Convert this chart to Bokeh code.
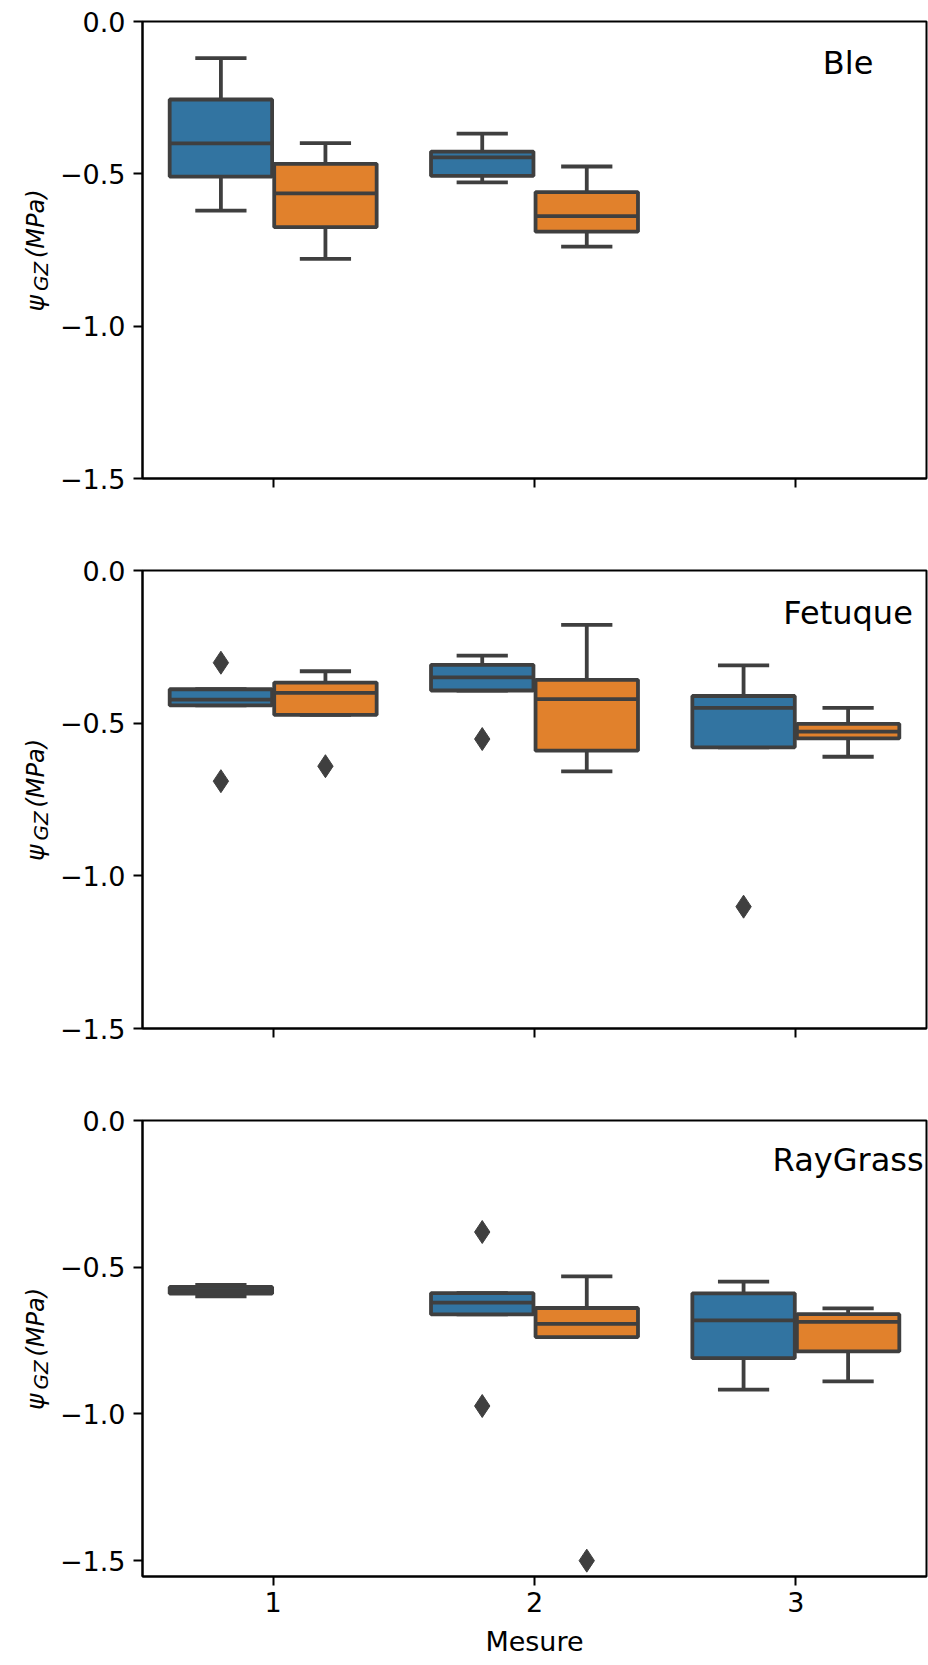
import math
from bokeh.plotting import figure
from bokeh.models import ColumnDataSource, Range1d, FixedTicker
from bokeh.layouts import column, row
from bokeh.embed import file_html
from bokeh.resources import INLINE
from bokeh.core.properties import value

NaN = float("nan")

# ---------------- data ----------------
measures = [1, 2, 3]
measure_labels = ["1", "2", "3"]
species = ["Ble", "Fetuque", "RayGrass"]
y_ticks = [0.0, -0.5, -1.0, -1.5]
y_tick_labels = ["0.0", "\u22120.5", "\u22121.0", "\u22121.5"]
hue_colors = ["#3274a1", "#e1812c"]
y_label_parts = ["\u03c8", "GZ", "(MPa)"]
x_label = "Mesure"

# Ble  (whisker low, Q1, median, Q3, whisker high) per Mesure
ble_blue_wlo = [-0.621, -0.528, NaN]
ble_blue_q1 = [-0.509, -0.507, NaN]
ble_blue_med = [-0.400, -0.446, NaN]
ble_blue_q3 = [-0.256, -0.427, NaN]
ble_blue_whi = [-0.120, -0.368, NaN]
ble_blue_fliers = [[], [], []]
ble_orange_wlo = [-0.779, -0.739, NaN]
ble_orange_q1 = [-0.675, -0.690, NaN]
ble_orange_med = [-0.564, -0.639, NaN]
ble_orange_q3 = [-0.467, -0.560, NaN]
ble_orange_whi = [-0.399, -0.476, NaN]
ble_orange_fliers = [[], [], []]

# Fetuque
fet_blue_wlo = [-0.442, -0.393, -0.579]
fet_blue_q1 = [-0.442, -0.393, -0.579]
fet_blue_med = [-0.423, -0.350, -0.450]
fet_blue_q3 = [-0.389, -0.309, -0.411]
fet_blue_whi = [-0.389, -0.279, -0.311]
fet_blue_fliers = [[-0.302, -0.690], [-0.552], [-1.101]]
fet_orange_wlo = [-0.473, -0.658, -0.610]
fet_orange_q1 = [-0.473, -0.590, -0.550]
fet_orange_med = [-0.401, -0.421, -0.528]
fet_orange_q3 = [-0.367, -0.358, -0.502]
fet_orange_whi = [-0.330, -0.178, -0.450]
fet_orange_fliers = [[-0.641], [], []]

# RayGrass
ray_blue_wlo = [-0.599, -0.661, -0.917]
ray_blue_q1 = [-0.590, -0.661, -0.810]
ray_blue_med = [-0.578, -0.621, -0.681]
ray_blue_q3 = [-0.567, -0.588, -0.589]
ray_blue_whi = [-0.560, -0.588, -0.549]
ray_blue_fliers = [[], [-0.380, -0.973], []]
ray_orange_wlo = [NaN, -0.738, -0.889]
ray_orange_q1 = [NaN, -0.738, -0.787]
ray_orange_med = [NaN, -0.693, -0.686]
ray_orange_q3 = [NaN, -0.639, -0.660]
ray_orange_whi = [NaN, -0.531, -0.640]
ray_orange_fliers = [[], [-1.500], []]

panels = [
    (species[0],
     [(ble_blue_wlo, ble_blue_q1, ble_blue_med, ble_blue_q3, ble_blue_whi, ble_blue_fliers),
      (ble_orange_wlo, ble_orange_q1, ble_orange_med, ble_orange_q3, ble_orange_whi, ble_orange_fliers)],
     -1.5),
    (species[1],
     [(fet_blue_wlo, fet_blue_q1, fet_blue_med, fet_blue_q3, fet_blue_whi, fet_blue_fliers),
      (fet_orange_wlo, fet_orange_q1, fet_orange_med, fet_orange_q3, fet_orange_whi, fet_orange_fliers)],
     -1.5),
    (species[2],
     [(ray_blue_wlo, ray_blue_q1, ray_blue_med, ray_blue_q3, ray_blue_whi, ray_blue_fliers),
      (ray_orange_wlo, ray_orange_q1, ray_orange_med, ray_orange_q3, ray_orange_whi, ray_orange_fliers)],
     -1.554),
]

# ---------------- style ----------------
GRAY = "#3f3f3f"
BOX_W = 0.392
CAP_W = BOX_W / 2
LW = 3.8
FONT = "DejaVu Sans"
TICK_FS = "27px"
LAB_W = 56          # width of the strip holding the y label
TOTAL_W = 928

rows_out = []
for idx, (name, hues, ybottom) in enumerate(panels):
    last = idx == len(panels) - 1
    H = 565 if last else 550
    top_b = 21 if idx == 0 else 20
    bot_b = 89 if last else 72
    fh = H - top_b - bot_b

    # ---- y-label strip; its frame is aligned with the main frame by the row ----
    lab = figure(width=LAB_W, height=H, output_backend="svg", toolbar_location=None,
                 x_range=Range1d(0, LAB_W), y_range=Range1d(0, fh),
                 x_axis_type=None, y_axis_type=None,
                 min_border=0, min_border_left=0, min_border_right=0,
                 min_border_top=top_b, min_border_bottom=bot_b)
    lab.grid.visible = False
    lab.outline_line_color = None
    lab.background_fill_color = "white"
    lab.border_fill_color = "white"
    c = fh / 2.0
    lab.text(x=[35], y=[c - 61.5], text=[y_label_parts[0]], angle=math.pi / 2,
             text_font=value(FONT), text_font_style="italic", text_font_size="25px",
             text_color="black", text_align="left", text_baseline="alphabetic")
    lab.text(x=[40], y=[c - 41], text=[y_label_parts[1]], angle=math.pi / 2,
             text_font=value(FONT), text_font_style="italic", text_font_size="20px",
             text_color="black", text_align="left", text_baseline="alphabetic")
    lab.text(x=[35], y=[c - 8], text=[y_label_parts[2]], angle=math.pi / 2,
             text_font=value(FONT), text_font_style="italic", text_font_size="24px",
             text_color="black", text_align="left", text_baseline="alphabetic")

    # ---- main panel ----
    p = figure(width=TOTAL_W - LAB_W, height=H, output_backend="svg", toolbar_location=None,
               x_range=Range1d(0.5, 3.5), y_range=Range1d(ybottom, 0.0),
               min_border_left=141 - LAB_W, min_border_right=2,
               min_border_top=top_b, min_border_bottom=bot_b)
    p.xgrid.visible = False
    p.ygrid.visible = False
    p.outline_line_color = "black"
    p.outline_line_width = 2
    p.background_fill_color = "white"
    p.border_fill_color = "white"

    for ax in (p.xaxis[0], p.yaxis[0]):
        ax.axis_line_color = "black"
        ax.axis_line_width = 2
        ax.major_tick_line_color = "black"
        ax.major_tick_line_width = 2
        ax.major_tick_out = 9
        ax.major_tick_in = 0
        ax.minor_tick_line_color = None
        ax.major_label_text_font = FONT
        ax.major_label_text_font_size = TICK_FS
        ax.major_label_text_color = "black"
    p.yaxis.major_label_standoff = 8

    p.yaxis.ticker = FixedTicker(ticks=y_ticks)
    p.yaxis.major_label_overrides = {t: l for t, l in zip(y_ticks, y_tick_labels)}
    p.xaxis.ticker = FixedTicker(ticks=measures)
    if last:
        p.xaxis.major_label_overrides = {m: l for m, l in zip(measures, measure_labels)}
        p.xaxis.major_label_standoff = 6
        p.xaxis.axis_label = x_label
        p.xaxis.axis_label_text_font = FONT
        p.xaxis.axis_label_text_font_size = TICK_FS
        p.xaxis.axis_label_text_font_style = "normal"
        p.xaxis.axis_label_text_color = "black"
        p.xaxis.axis_label_standoff = 11
    else:
        p.xaxis.major_label_overrides = {m: "" for m in measures}

    for h, (wlo, q1, med, q3, whi, fl) in enumerate(hues):
        off = -0.2 if h == 0 else 0.2
        rows = [i for i in range(len(measures)) if not math.isnan(med[i])]
        xs = [measures[i] + off for i in rows]
        src = ColumnDataSource(dict(
            x=xs,
            left=[x - BOX_W / 2 for x in xs], right=[x + BOX_W / 2 for x in xs],
            cl=[x - CAP_W / 2 for x in xs], cr=[x + CAP_W / 2 for x in xs],
            lo=[wlo[i] for i in rows], q1=[q1[i] for i in rows], med=[med[i] for i in rows],
            q3=[q3[i] for i in rows], hi=[whi[i] for i in rows]))
        p.segment(x0="x", x1="x", y0="q3", y1="hi", source=src, line_color=GRAY, line_width=LW)
        p.segment(x0="x", x1="x", y0="q1", y1="lo", source=src, line_color=GRAY, line_width=LW)
        p.segment(x0="cl", x1="cr", y0="hi", y1="hi", source=src, line_color=GRAY, line_width=LW)
        p.segment(x0="cl", x1="cr", y0="lo", y1="lo", source=src, line_color=GRAY, line_width=LW)
        p.quad(left="left", right="right", top="q3", bottom="q1", source=src,
               fill_color=hue_colors[h], line_color=GRAY, line_width=LW)
        p.segment(x0="left", x1="right", y0="med", y1="med", source=src, line_color=GRAY, line_width=LW)
        fx, fy = [], []
        for i in range(len(measures)):
            for v in fl[i]:
                fx.append(measures[i] + off)
                fy.append(v)
        if fx:
            p.scatter(x=fx, y=fy, marker="diamond", size=23, fill_color=GRAY, line_color=GRAY)

    p.text(x=[3.2], y=[-0.2], text=[name], text_align="center", text_baseline="bottom",
           text_font=value(FONT), text_font_size="32px", text_color="black")

    rows_out.append(row(lab, p, spacing=0))

layout = column(*rows_out, spacing=0)
open("out.html", "w").write(file_html(layout, INLINE))
